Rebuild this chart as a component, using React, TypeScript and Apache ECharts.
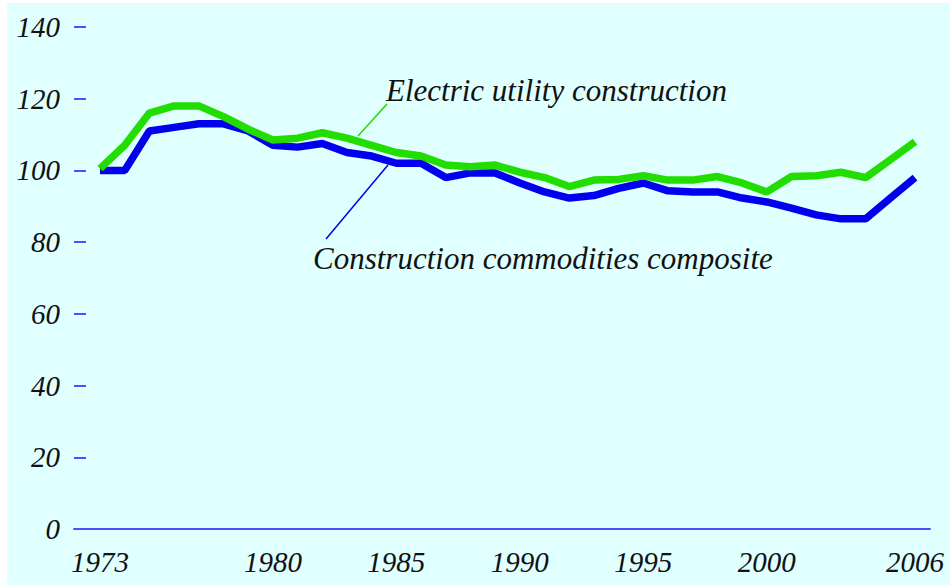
import React, { useEffect, useRef } from "react";
import * as echarts from "echarts";

const years = [
  1973, 1974, 1975, 1976, 1977, 1978, 1979, 1980, 1981, 1982, 1983, 1984,
  1985, 1986, 1987, 1988, 1989, 1990, 1991, 1992, 1993, 1994, 1995, 1996,
  1997, 1998, 1999, 2000, 2001, 2002, 2003, 2004, 2005, 2006,
];

const electricUtility = [
  100.5, 107, 116, 118, 118, 115, 111.5, 108.5, 109, 110.5, 109, 107,
  105, 104, 101.5, 101, 101.5, 99.5, 98, 95.5, 97.3, 97.5, 98.5, 97.3,
  97.3, 98.3, 96.5, 94, 98.3, 98.5, 99.5, 98, 103, 108,
];

const commoditiesComposite = [
  100, 100, 111, 112, 113, 113, 111, 107, 106.5, 107.5, 105, 104,
  102, 102, 98, 99.3, 99.3, 96.5, 94, 92.3, 93, 95, 96.5, 94.3,
  94, 94, 92.3, 91.2, 89.5, 87.6, 86.5, 86.5, 92.3, 98,
];

const xLabelYears = [1973, 1980, 1985, 1990, 1995, 2000, 2006];

const labelElectric = "Electric utility construction";
const labelComposite = "Construction commodities composite";

const FONT_FAMILY = '"Liberation Serif", "DejaVu Serif", serif';
const AXIS_BLUE = "#4d4dff";

export default function App() {
  const ref = useRef<HTMLDivElement>(null);

  useEffect(() => {
    if (!ref.current) return;
    const chart = echarts.init(ref.current, null, { renderer: "svg" });
    const textStyle = {
      fontFamily: FONT_FAMILY,
      fontStyle: "italic" as const,
      fontSize: 29,
      color: "#111111",
    };
    const annotationStyle = {
      fontFamily: FONT_FAMILY,
      fontStyle: "italic",
      fontSize: 31,
      fill: "#111111",
      verticalAlign: "middle",
      align: "left",
    };
    chart.setOption({
      animation: false,
      backgroundColor: "#ffffff",
      grid: { left: 74, right: 20, top: 27, bottom: 57 },
      xAxis: {
        type: "value",
        min: 1971.947,
        max: 2006.607,
        axisLine: { show: true, lineStyle: { color: AXIS_BLUE, width: 2 } },
        axisTick: { show: false },
        splitLine: { show: false },
        axisLabel: {
          ...textStyle,
          customValues: xLabelYears,
          formatter: (v: number) => String(v),
          margin: 18,
        },
      },
      yAxis: {
        type: "value",
        min: 0,
        max: 140,
        interval: 20,
        axisLine: { show: false },
        axisTick: {
          show: true,
          inside: true,
          length: 12,
          lineStyle: { color: AXIS_BLUE, width: 2 },
        },
        splitLine: { show: false },
        axisLabel: { ...textStyle, margin: 14 },
      },
      graphic: [
        {
          type: "rect",
          z: -10,
          silent: true,
          shape: { x: 7, y: 3, width: 943, height: 582 },
          style: { fill: "#e0ffff" },
        },
        {
          type: "text",
          x: 386,
          y: 90,
          style: { text: labelElectric, ...annotationStyle },
        },
        {
          type: "text",
          x: 313,
          y: 258,
          style: { text: labelComposite, ...annotationStyle },
        },
        {
          type: "line",
          shape: { x1: 387, y1: 104, x2: 358, y2: 136 },
          style: { stroke: "#22dd00", lineWidth: 1.5 },
          z: 10,
        },
        {
          type: "line",
          shape: { x1: 388, y1: 165, x2: 326, y2: 239 },
          style: { stroke: "#0000ee", lineWidth: 1.5 },
          z: 10,
        },
      ],
      series: [
        {
          name: labelComposite,
          type: "line",
          data: years.map((y, i) => [y, commoditiesComposite[i]]),
          showSymbol: false,
          symbol: "none",
          lineStyle: { color: "#0000ee", width: 7.5 },
          z: 2,
        },
        {
          name: labelElectric,
          type: "line",
          data: years.map((y, i) => [y, electricUtility[i]]),
          showSymbol: false,
          symbol: "none",
          lineStyle: { color: "#22dd00", width: 7.5 },
          z: 3,
        },
      ],
    });
    return () => chart.dispose();
  }, []);

  return (
    <div
      ref={ref}
      style={{ position: "absolute", left: 0, top: 0, width: 950, height: 586 }}
    />
  );
}
